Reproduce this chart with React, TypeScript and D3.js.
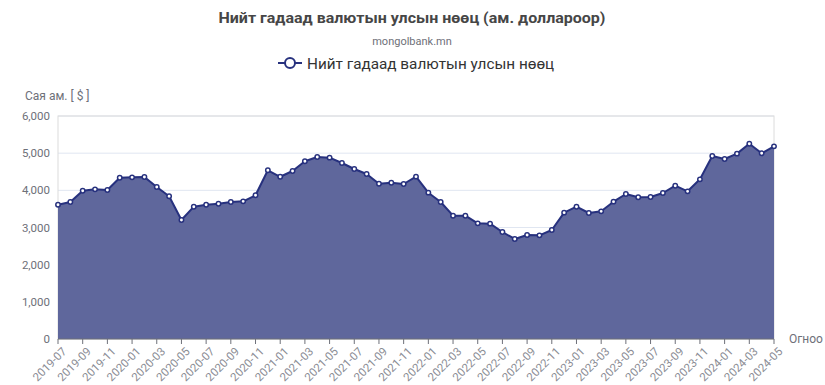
import React from "react";
import * as d3 from "d3";

const W = 825;
const H = 385;

const startMonth = "2019-07";
const reserves: number[] = [
  3613, 3686, 3990, 4027, 4009, 4340, 4350, 4359, 4090, 3839,
  3202, 3560, 3613, 3640, 3686, 3704, 3866, 4539, 4365, 4520,
  4781, 4897, 4879, 4735, 4574, 4439, 4179, 4206, 4170, 4368,
  3937, 3686, 3318, 3318, 3112, 3103, 2879, 2691, 2798, 2789,
  2933, 3399, 3560, 3390, 3435, 3695, 3901, 3812, 3821, 3928,
  4125, 3973, 4296, 4924, 4843, 4987, 5255, 4996, 5184,
];
const yTicks: number[] = [0, 1000, 2000, 3000, 4000, 5000, 6000];

const titleText = "Нийт гадаад валютын улсын нөөц (ам. доллароор)";
const subtitleText = "mongolbank.mn";
const seriesName = "Нийт гадаад валютын улсын нөөц";
const yAxisName = "Сая ам. [ $ ]";
const xAxisName = "Огноо";

function monthLabel(i: number): string {
  const [y, m] = startMonth.split("-").map(Number);
  const total = y * 12 + (m - 1) + i;
  const yy = Math.floor(total / 12);
  const mm = (total % 12) + 1;
  return `${yy}-${String(mm).padStart(2, "0")}`;
}

const months: string[] = reserves.map((_, i) => monthLabel(i));

export default function App() {
  const left = 58;
  const right = 774;
  const top = 116;
  const bottom = 339;

  const x = d3.scaleLinear().domain([0, months.length - 1]).range([left, right]);
  const y = d3.scaleLinear().domain([0, 6000]).range([bottom, top]);

  const area = d3
    .area<number>()
    .x((_, i) => x(i))
    .y0(bottom)
    .y1((d) => y(d));
  const line = d3
    .line<number>()
    .x((_, i) => x(i))
    .y((d) => y(d));

  const fmt = d3.format(",");
  const font = "Roboto, 'Noto Sans', sans-serif";
  const labelColor = "#6e7079";
  const xLabelColor = "#8a8c94";

  return (
    <div style={{ position: "absolute", left: 0, top: 0 }}>
      <svg width={W} height={H} style={{ display: "block", fontFamily: font }}>
        <rect x={0} y={0} width={W} height={H} fill="#fff" />
        {/* title */}
        <text x={412} y={23} textAnchor="middle" fontSize={15.5} fontWeight="bold" fill="#464646" textLength={387} lengthAdjust="spacingAndGlyphs">
          {titleText}
        </text>
        <text x={412} y={45} textAnchor="middle" fontSize={11} fill="#6e7079">
          {subtitleText}
        </text>
        {/* legend */}
        <g>
          <line x1={278} x2={302} y1={63} y2={63} stroke="#27317e" strokeWidth={2} />
          <circle cx={290} cy={63} r={5} fill="#fff" stroke="#27317e" strokeWidth={2} />
          <text x={307} y={68.5} fontSize={15.3} fill="#333">
            {seriesName}
          </text>
        </g>
        {/* y-axis name */}
        <text x={25} y={100} fontSize={12} fill={labelColor}>
          {yAxisName}
        </text>
        {/* grid */}
        {yTicks.map((t) => (
          <g key={t}>
            {t > 0 && (
              <line x1={left} x2={right} y1={y(t)} y2={y(t)} stroke="#e0e6f1" strokeWidth={1} />
            )}
            <text x={50} y={y(t) + 4} textAnchor="end" fontSize={11.5} fill={labelColor}>
              {fmt(t)}
            </text>
          </g>
        ))}
        {/* grid border */}
        <rect x={left} y={top} width={right - left} height={bottom - top} fill="none" stroke="#dcdcdc" strokeWidth={1} />
        {/* area */}
        <path d={area(reserves) || ""} fill="#5f679c" />
        <path d={line(reserves) || ""} fill="none" stroke="#27317e" strokeWidth={2} strokeLinejoin="round" />
        {reserves.map((v, i) => (
          <circle key={i} cx={x(i)} cy={y(v)} r={2.2} fill="#fff" stroke="#27317e" strokeWidth={1.5} />
        ))}
        {/* x axis */}
        <line x1={left} x2={right} y1={bottom} y2={bottom} stroke={labelColor} strokeWidth={1} />
        {months.map((m, i) =>
          i % 2 === 0 ? (
            <g key={m}>
              <line x1={x(i)} x2={x(i)} y1={bottom} y2={bottom + 5} stroke={labelColor} />
              <text
                transform={`translate(${x(i) + 3},${bottom + 7}) rotate(-45)`}
                textAnchor="end"
                fontSize={11.5}
                fill={xLabelColor}
                dominantBaseline="hanging"
              >
                {m}
              </text>
            </g>
          ) : null
        )}
        <text x={789} y={343} fontSize={12} fill={labelColor}>
          {xAxisName}
        </text>
      </svg>
    </div>
  );
}
